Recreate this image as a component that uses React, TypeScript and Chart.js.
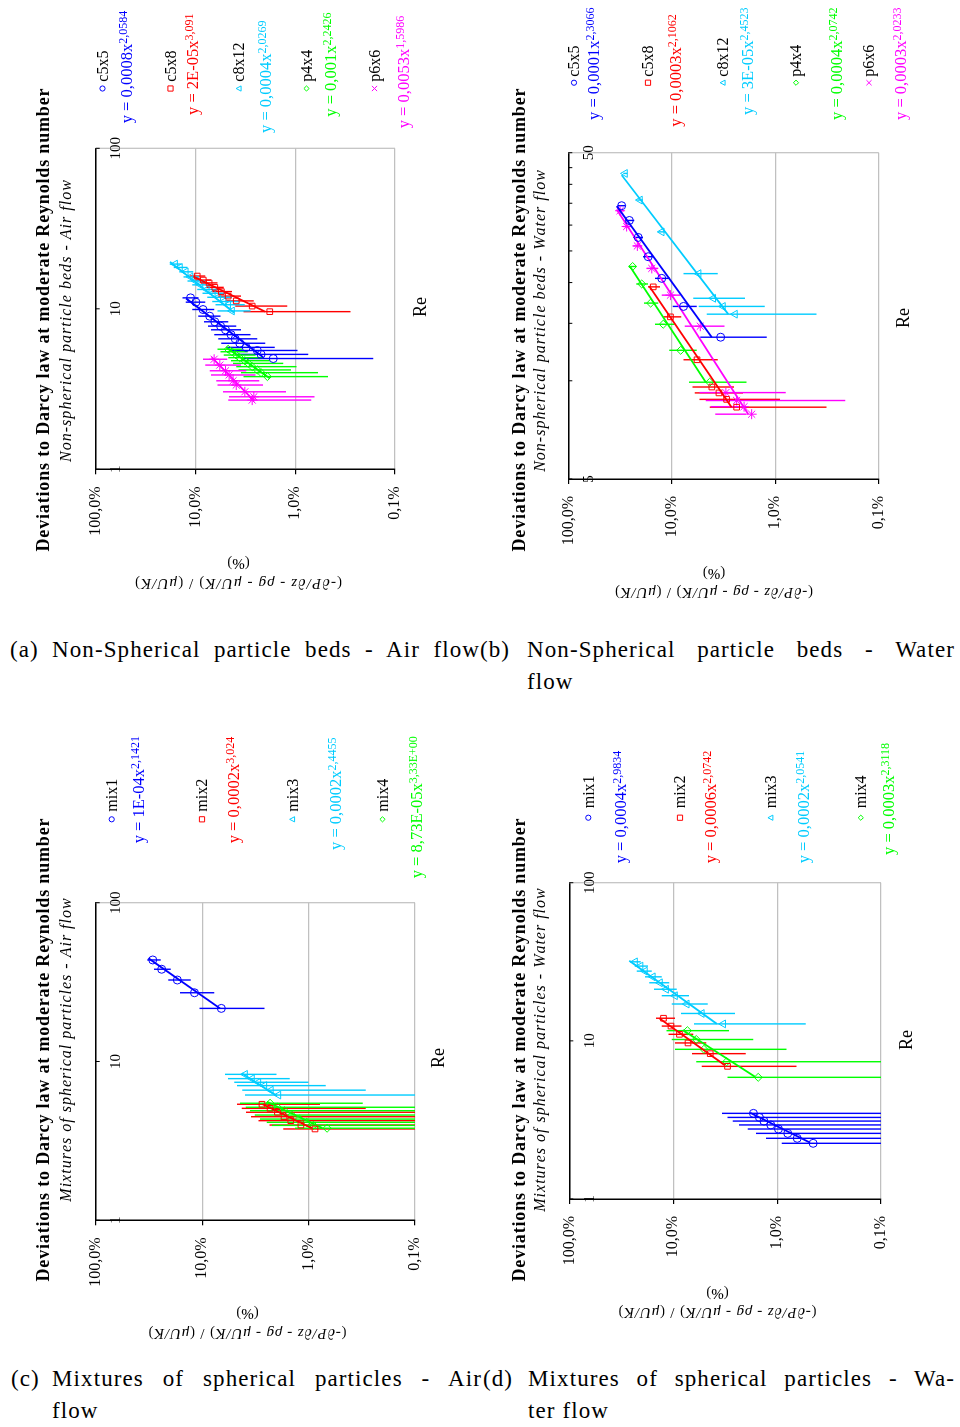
import React, { useEffect, useRef } from "react";
import { Chart, registerables } from "chart.js";
Chart.register(...registerables);

const FAM = '"Liberation Serif", "Times New Roman", serif';
const BLUE = "#0000ff";
const RED = "#ff0000";
const CYAN = "#00ccff";
const GREEN = "#00ff00";
const MAGENTA = "#ff00ff";
const Y_AXIS_W = 80;

// ---------- shared axis data ----------
const DEV_TICKS = [0.001, 0.01, 0.1, 1];
const DEV_TICK_LABELS = ["0,1%", "1,0%", "10,0%", "100,0%"];
const RE_TICKS_DECADE = [1, 10, 100];
const RE_TICK_LABELS_DECADE = ["1", "10", "100"];
const RE_TICKS_B = [5, 10, 15, 20, 25, 30, 35, 40, 45, 50];
const RE_TICK_LABELS_B = ["5", "", "", "", "", "", "", "", "", "50"];
const TITLE = "Deviations to Darcy law at moderate Reynolds number";
const SUB_A = "Non-spherical particle beds - Air flow";
const SUB_B = "Non-spherical particle beds - Water flow";
const SUB_C = "Mixtures of spherical particles - Air flow";
const SUB_D = "Mixtures of spherical particles - Water flow";

// ---------- (a) Non-spherical, air (deviation in %) ----------
const aC5x5Re = [11.7, 11.0, 9.9, 9.0, 8.3, 7.8, 7.4, 6.9, 6.5, 6.1, 5.75, 5.5, 5.2, 4.9];
const aC5x5Dev = [11.2, 9.9, 8.4, 7.2, 6.4, 5.6, 5.0, 4.4, 4.0, 3.6, 3.1, 2.4, 2.2, 1.66];
const aC5x5Hi = [13.5, 12.5, 10.8, 9.4, 8.2, 7.5, 7.0, 6.5, 5.9, 5.5, 4.9, 4.5, 4.0, 3.4];
const aC5x5Lo = [9.3, 8.0, 6.5, 5.6, 4.7, 3.9, 3.5, 2.8, 2.4, 2.0, 1.6, 0.95, 0.74, 0.165];
const aC5x5FitRe = [11.6, 4.99];
const aC5x5FitDev = [12.4, 2.1];

const aC5x8Re = [16.0, 15.1, 14.5, 13.6, 12.8, 12.0, 11.2, 10.4, 9.6];
const aC5x8Dev = [9.6, 8.35, 7.3, 6.4, 5.5, 4.7, 3.9, 2.7, 1.8];
const aC5x8Hi = [11.5, 10, 8.8, 7.8, 6.8, 5.9, 5.0, 4.0, 3.3];
const aC5x8Lo = [8.0, 7.0, 6.0, 5.2, 4.3, 3.5, 2.6, 1.2, 0.28];
const aC5x8FitRe = [15.9, 9.6];
const aC5x8FitDev = [10.5, 2.0];

const aC8x12Re = [19.0, 18.1, 17.0, 15.8, 14.9, 14.1, 13.2, 12.5, 11.8, 11.1, 10.6, 9.7];
const aC8x12Dev = [16.0, 14.3, 12.5, 11.2, 9.95, 8.9, 7.7, 6.7, 5.9, 5.2, 4.7, 4.3];
const aC8x12Hi = [18.1, 16.5, 14.5, 13.2, 12.0, 10.8, 9.6, 8.5, 7.6, 6.8, 6.3, 6.0];
const aC8x12Lo = [13.8, 12.0, 10.5, 9.2, 8.0, 7.0, 5.9, 5.0, 4.3, 3.6, 3.2, 2.8];
const aC8x12FitRe = [19.6, 9.46];
const aC8x12FitDev = [18.0, 4.1];

const aP4x4Re = [5.6, 5.4, 5.15, 4.96, 4.75, 4.57, 4.36, 4.16, 4.0, 3.78];
const aP4x4Dev = [4.7, 4.3, 3.9, 3.6, 3.2, 2.96, 2.7, 2.4, 2.2, 1.9];
const aP4x4Hi = [6.0, 5.6, 5.2, 4.7, 4.4, 4.2, 3.9, 3.7, 3.5, 3.3];
const aP4x4Lo = [3.4, 3.0, 2.5, 2.1, 1.8, 1.32, 0.97, 1.1, 0.59, 0.47];
const aP4x4FitRe = [5.75, 3.69];
const aP4x4FitDev = [4.9, 1.8];

const aP6x6Re = [4.85, 4.46, 4.11, 3.87, 3.56, 3.35, 3.04, 2.83, 2.7];
const aP6x6Dev = [6.5, 5.7, 5.0, 4.6, 4.2, 3.9, 3.2, 2.6, 2.7];
const aP6x6Hi = [8.4, 8.0, 7.2, 7.0, 6.2, 6.0, 5.3, 4.6, 4.7];
const aP6x6Lo = [4.8, 3.5, 3.1, 2.5, 2.3, 2.1, 1.24, 0.64, 0.69];
const aP6x6FitRe = [4.99, 2.68];
const aP6x6FitDev = [6.9, 2.6];

// ---------- (b) Non-spherical, water ----------
const bC5x5Re = [34.4, 31.0, 27.5, 24.0, 20.6, 16.9, 13.6];
const bC5x5Dev = [30.5, 25.7, 21.1, 16.9, 12.5, 7.7, 3.37];
const bC5x5Hi = [33, 28, 23.5, 19, 14.5, 9.8, 5.3];
const bC5x5Lo = [28, 23, 19, 15, 10.4, 5.75, 1.21];
const bC5x5FitRe = [34.3, 13.6];
const bC5x5FitDev = [34, 4.1];

const bC5x8Re = [19.4, 15.7, 11.6, 9.57, 9.18, 8.77, 8.3];
const bC5x8Dev = [15.1, 10.3, 5.7, 4.1, 3.5, 2.95, 2.36];
const bC5x8Hi = [17, 12, 7.7, 6.3, 6.0, 5.4, 4.3];
const bC5x8Lo = [13, 8.1, 3.6, 2.5, 2.05, 0.9, 0.32];
const bC5x8FitRe = [19.5, 8.3];
const bC5x8FitDev = [16.5, 2.64];

const bC8x12Re = [43.2, 35.8, 28.6, 21.3, 17.9, 16.9, 16.0];
const bC8x12Dev = [28.3, 20.3, 12.5, 5.5, 3.97, 3.2, 2.45];
const bC8x12Hi = [29.5, 21.5, 13.5, 7.7, 6.2, 5.5, 4.6];
const bC8x12Lo = [27, 19, 11.5, 3.6, 1.96, 1.26, 0.4];
const bC8x12FitRe = [42.7, 16.0];
const bC8x12FitDev = [30.5, 2.85];

const bP4x4Re = [22.4, 19.8, 17.3, 14.9, 12.4, 9.9];
const bP4x4Dev = [23.9, 19.5, 16.0, 12.1, 8.2, 4.3];
const bP4x4Hi = [26, 22, 18.5, 14.5, 10.6, 6.8];
const bP4x4Lo = [22, 17, 13.5, 9.4, 5.75, 1.9];
const bP4x4FitRe = [22.4, 9.9];
const bP4x4FitDev = [25.3, 4.7];

const bP6x6Re = [33.2, 29.7, 25.9, 22.1, 18.3, 14.7, 9.2, 8.7, 8.33, 7.9];
const bP6x6Dev = [31.6, 27.3, 21.5, 15.6, 10.3, 5.3, 3.0, 2.36, 2.0, 1.69];
const bP6x6Hi = [34, 29.5, 23.5, 17.5, 12.5, 7.5, 5.4, 4.7, 4.2, 3.8];
const bP6x6Lo = [29, 25, 19.5, 13.5, 8.3, 3.1, 0.79, 0.21, 1.9, 1.9];
const bP6x6FitRe = [33.5, 7.9];
const bP6x6FitDev = [34, 1.82];

// ---------- (c) Mixtures, air ----------
const cMix1Re = [43.6, 38.1, 32.6, 27.1, 21.6];
const cMix1Dev = [29.1, 24.0, 17.1, 11.8, 6.6];
const cMix1Hi = [32.7, 28.3, 20.8, 16.1, 10.6];
const cMix1Lo = [24.5, 19.7, 12.8, 7.7, 2.6];
const cMix1FitRe = [44.7, 21.6];
const cMix1FitDev = [32, 6.8];

const cMix2Re = [5.38, 5.07, 4.79, 4.49, 4.24, 3.98, 3.76];
const cMix2Dev = [2.74, 2.3, 1.96, 1.7, 1.47, 1.18, 0.87];
const cMix2Hi = [4.7, 4.25, 3.87, 3.47, 2.96, 2.33, 1.73];
const cMix2Lo = [0.78, 0.29, 0.05, 0, 0, 0, 0];
const cMix2FitRe = [5.38, 3.8];
const cMix2FitDev = [2.7, 0.93];

const cMix3Re = [8.3, 7.8, 7.4, 7.05, 6.6, 6.15];
const cMix3Dev = [3.95, 3.4, 2.96, 2.6, 2.26, 1.92];
const cMix3Hi = [6.1, 5.7, 5.0, 4.7, 4.2, 3.95];
const cMix3Lo = [2.0, 1.5, 1.0, 0.69, 0.29, 0];
const cMix3FitRe = [8.43, 6.09];
const cMix3FitDev = [4.25, 1.99];

const cMix4Re = [5.46, 5.15, 4.9, 4.6, 4.34, 4.14, 3.96, 3.8];
const cMix4Dev = [2.3, 1.96, 1.69, 1.44, 1.22, 1.04, 0.9, 0.67];
const cMix4Hi = [4.4, 3.9, 3.55, 3.2, 2.86, 2.47, 2.2, 1.34];
const cMix4Lo = [0.31, 0, 0, 0, 0, 0, 0, 0];
const cMix4FitRe = [5.58, 3.81];
const cMix4FitDev = [2.47, 0.74];

// ---------- (d) Mixtures, water ----------
const dMix1Re = [3.48, 3.28, 3.11, 2.94, 2.77, 2.6, 2.42, 2.25];
const dMix1Dev = [1.69, 1.48, 1.34, 1.15, 0.97, 0.79, 0.64, 0.45];
const dMix1Hi = [3.4, 3.0, 2.67, 2.33, 1.92, 1.6, 1.28, 0.9];
const dMix1Lo = [0, 0, 0, 0, 0, 0, 0, 0];
const dMix1FitRe = [3.51, 2.27];
const dMix1FitDev = [1.82, 0.48];

const dMix2Re = [13.9, 12.4, 11.0, 9.7, 8.3, 6.9];
const dMix2Dev = [12.4, 10.5, 8.7, 7.2, 4.4, 3.0];
const dMix2Hi = [14.6, 12.9, 11.1, 9.6, 6.6, 5.3];
const dMix2Lo = [9.6, 8.3, 6.4, 4.8, 2.0, 0.65];
const dMix2FitRe = [13.9, 7.03];
const dMix2FitDev = [13.6, 3.2];

const dMix3Re = [31.6, 29.7, 27.6, 25.4, 23.3, 21.2, 19.3, 17.1, 14.9, 12.8];
const dMix3Dev = [23.3, 20.6, 18.7, 15.7, 13.4, 11.7, 9.6, 7.4, 5.3, 3.3];
const dMix3Hi = [26, 23.5, 22.4, 18.7, 17, 15.3, 12.9, 10.3, 8.4, 6.3];
const dMix3Lo = [20.5, 17.5, 16.1, 12.9, 10.9, 9.25, 7.05, 4.66, 2.54, 0.53];
const dMix3FitRe = [32.1, 12.8];
const dMix3FitDev = [26.5, 3.8];

const dMix4Re = [11.6, 10.2, 8.84, 7.38, 5.88];
const dMix4Dev = [7.3, 6.0, 5.06, 3.06, 1.52];
const dMix4Hi = [11.6, 10.3, 9.6, 6.0, 3.0];
const dMix4Lo = [2.9, 1.7, 0.81, 0, 0];
const dMix4FitRe = [11.7, 5.93];
const dMix4FitDev = [8.1, 1.63];

type Series = {
  name: string; color: string; style: string;
  re: number[]; dev: number[]; hi: number[]; lo: number[];
  fitRe: number[]; fitDev: number[]; coef: string; exp: string;
};
const S = (name: string, color: string, style: string, re: number[], dev: number[], hi: number[], lo: number[], fitRe: number[], fitDev: number[], coef: string, exp: string): Series =>
  ({ name, color, style, re, dev, hi, lo, fitRe, fitDev, coef, exp });

const A_SERIES = [
  S("c5x5", BLUE, "circle", aC5x5Re, aC5x5Dev, aC5x5Hi, aC5x5Lo, aC5x5FitRe, aC5x5FitDev, "0,0008", "2,0584"),
  S("c5x8", RED, "rect", aC5x8Re, aC5x8Dev, aC5x8Hi, aC5x8Lo, aC5x8FitRe, aC5x8FitDev, "2E-05", "3,091"),
  S("c8x12", CYAN, "triangle", aC8x12Re, aC8x12Dev, aC8x12Hi, aC8x12Lo, aC8x12FitRe, aC8x12FitDev, "0,0004", "2,0269"),
  S("p4x4", GREEN, "rectRot", aP4x4Re, aP4x4Dev, aP4x4Hi, aP4x4Lo, aP4x4FitRe, aP4x4FitDev, "0,001", "2,2426"),
  S("p6x6", MAGENTA, "star", aP6x6Re, aP6x6Dev, aP6x6Hi, aP6x6Lo, aP6x6FitRe, aP6x6FitDev, "0,0053", "1,5986"),
];
const B_SERIES = [
  S("c5x5", BLUE, "circle", bC5x5Re, bC5x5Dev, bC5x5Hi, bC5x5Lo, bC5x5FitRe, bC5x5FitDev, "0,0001", "2,3066"),
  S("c5x8", RED, "rect", bC5x8Re, bC5x8Dev, bC5x8Hi, bC5x8Lo, bC5x8FitRe, bC5x8FitDev, "0,0003", "2,1062"),
  S("c8x12", CYAN, "triangle", bC8x12Re, bC8x12Dev, bC8x12Hi, bC8x12Lo, bC8x12FitRe, bC8x12FitDev, "3E-05", "2,4523"),
  S("p4x4", GREEN, "rectRot", bP4x4Re, bP4x4Dev, bP4x4Hi, bP4x4Lo, bP4x4FitRe, bP4x4FitDev, "0,0004", "2,0742"),
  S("p6x6", MAGENTA, "star", bP6x6Re, bP6x6Dev, bP6x6Hi, bP6x6Lo, bP6x6FitRe, bP6x6FitDev, "0,0003", "2,0233"),
];
const C_SERIES = [
  S("mix1", BLUE, "circle", cMix1Re, cMix1Dev, cMix1Hi, cMix1Lo, cMix1FitRe, cMix1FitDev, "1E-04", "2,1421"),
  S("mix2", RED, "rect", cMix2Re, cMix2Dev, cMix2Hi, cMix2Lo, cMix2FitRe, cMix2FitDev, "0,0002", "3,024"),
  S("mix3", CYAN, "triangle", cMix3Re, cMix3Dev, cMix3Hi, cMix3Lo, cMix3FitRe, cMix3FitDev, "0,0002", "2,4455"),
  S("mix4", GREEN, "rectRot", cMix4Re, cMix4Dev, cMix4Hi, cMix4Lo, cMix4FitRe, cMix4FitDev, "8,73E-05", "3,33E+00"),
];
const D_SERIES = [
  S("mix1", BLUE, "circle", dMix1Re, dMix1Dev, dMix1Hi, dMix1Lo, dMix1FitRe, dMix1FitDev, "0,0004", "2,9834"),
  S("mix2", RED, "rect", dMix2Re, dMix2Dev, dMix2Hi, dMix2Lo, dMix2FitRe, dMix2FitDev, "0,0006", "2,0742"),
  S("mix3", CYAN, "triangle", dMix3Re, dMix3Dev, dMix3Hi, dMix3Lo, dMix3FitRe, dMix3FitDev, "0,0002", "2,0541"),
  S("mix4", GREEN, "rectRot", dMix4Re, dMix4Dev, dMix4Hi, dMix4Lo, dMix4FitRe, dMix4FitDev, "0,0003", "2,3118"),
];

// ---------- layout (unrotated chart coordinates: u along Re, v downward) ----------
const LAYOUT_A = {
  x0: 0, y0: 0, pw: 480, ph: 620,
  pad: { left: 150.7, right: 148.3, top: 95.7, bottom: 85 },
  title: { u: 300, v: 49, w: 463 }, sub: { u: 299, v: 70.5, w: 282 },
  yTitle: { u: 36.7, u2: 57.5, v: 238.5, w: 207 }, re: { u: 313, v: 421 },
  legendV: [102.5, 170.5, 239, 306.5, 374.5], markerU: 531.5, nameU: 538.3,
  eqU: [496.7, 505, 487, 503.3, 491.7], eqV: [126, 192.5, 265.8, 330.8, 403.3],
};
const LAYOUT_B = {
  x0: 480, y0: 0, pw: 480, ph: 620,
  pad: { left: 141, right: 152.7, top: 88.3, bottom: 81.3 },
  title: { u: 300, v: 44.5, w: 463 }, sub: { u: 299, v: 64.5, w: 301.7 },
  yTitle: { u: 28.3, u2: 47.5, v: 234, w: 198 }, re: { u: 302, v: 424 },
  legendV: [94, 168, 243, 316, 389], markerU: 537.3, nameU: 543.3,
  eqU: [500, 493.3, 505, 500, 500], eqV: [113.3, 195, 267.5, 356, 420.8],
};
const LAYOUT_C = {
  x0: 0, y0: 720, pw: 480, ph: 630,
  pad: { left: 129.7, right: 182.7, top: 95.7, bottom: 65 },
  title: { u: 300, v: 49, w: 463 }, sub: { u: 300, v: 70.5, w: 303.4 },
  yTitle: { u: 16.7, u2: 37.5, v: 247.5, w: 198 }, re: { u: 292, v: 439 },
  legendV: [111.7, 202, 292.5, 382.5], markerU: 530.7, nameU: 538.3,
  eqU: [506.7, 506.7, 500, 471.7], eqV: [138.3, 233.3, 335, 416.7],
};
const LAYOUT_D = {
  x0: 480, y0: 720, pw: 480, ph: 630,
  pad: { left: 151, right: 162.7, top: 89.3, bottom: 79 },
  title: { u: 300, v: 44.5, w: 463 }, sub: { u: 300, v: 64.5, w: 323.4 },
  yTitle: { u: 38.3, u2: 57.5, v: 237.5, w: 198 }, re: { u: 310, v: 427.5 },
  legendV: [108.3, 200, 290.8, 380.8], markerU: 532.3, nameU: 541.7,
  eqU: [486.7, 486.7, 486.7, 495], eqV: [140, 230, 323.3, 408.3],
};

const PANELS = [
  { layout: LAYOUT_A, series: A_SERIES, sub: SUB_A, reMin: 1, reMax: 100, reTicks: RE_TICKS_DECADE, reLabels: RE_TICK_LABELS_DECADE },
  { layout: LAYOUT_B, series: B_SERIES, sub: SUB_B, reMin: 5, reMax: 50, reTicks: RE_TICKS_B, reLabels: RE_TICK_LABELS_B },
  { layout: LAYOUT_C, series: C_SERIES, sub: SUB_C, reMin: 1, reMax: 100, reTicks: RE_TICKS_DECADE, reLabels: RE_TICK_LABELS_DECADE },
  { layout: LAYOUT_D, series: D_SERIES, sub: SUB_D, reMin: 1, reMax: 100, reTicks: RE_TICKS_DECADE, reLabels: RE_TICK_LABELS_DECADE },
];

const Y_TITLE_SEGS: [string, boolean][] = [
  ["(-", false], ["\u2202P/\u2202z", true], [" - ", false], ["\u03C1g", true], [" - ", false],
  ["\u03BCU/K", true], [") / (", false], ["\u03BCU/K", true], [")", false],
];

function drawSpaced(ctx: CanvasRenderingContext2D, segs: [string, string][], cx: number, y: number, target: number) {
  const chars: { c: string; f: string; w: number }[] = [];
  segs.forEach(([t, f]) => {
    ctx.font = f;
    Array.from(t).forEach((c) => chars.push({ c, f, w: ctx.measureText(c).width }));
  });
  const nat = chars.reduce((s, c) => s + c.w, 0);
  const extra = chars.length > 1 ? (target - nat) / (chars.length - 1) : 0;
  let x = cx - target / 2;
  ctx.textAlign = "left";
  chars.forEach((ch) => {
    ctx.font = ch.f;
    ctx.fillText(ch.c, x, y);
    x += ch.w + extra;
  });
}

function drawMarker(ctx: CanvasRenderingContext2D, style: string, x: number, y: number, r: number) {
  ctx.beginPath();
  if (style === "circle") ctx.arc(x, y, r, 0, Math.PI * 2);
  else if (style === "rect") ctx.rect(x - r, y - r, 2 * r, 2 * r);
  else if (style === "triangle") {
    ctx.moveTo(x, y - r * 1.1); ctx.lineTo(x + r, y + r * 0.8); ctx.lineTo(x - r, y + r * 0.8); ctx.closePath();
  } else if (style === "rectRot") {
    ctx.moveTo(x, y - r); ctx.lineTo(x + r, y); ctx.lineTo(x, y + r); ctx.lineTo(x - r, y); ctx.closePath();
  } else {
    ctx.moveTo(x - r, y - r); ctx.lineTo(x + r, y + r); ctx.moveTo(x + r, y - r); ctx.lineTo(x - r, y + r);
  }
  ctx.stroke();
}

function makeDeco(p: any) {
  const L = p.layout;
  return {
    id: "deco",
    beforeDatasetsDraw(chart: any) {
      const { ctx, chartArea: a, scales } = chart;
      const xs = scales.x, ys = scales.y;
      ctx.save();
      ctx.beginPath();
      ctx.rect(a.left, a.top, a.right - a.left, a.bottom - a.top);
      ctx.clip();
      ctx.lineWidth = 1.4;
      p.series.forEach((s: Series) => {
        ctx.strokeStyle = s.color;
        s.re.forEach((re, i) => {
          const px = xs.getPixelForValue(re);
          const y1 = ys.getPixelForValue(s.hi[i] / 100);
          const y2 = s.lo[i] > 0 ? ys.getPixelForValue(s.lo[i] / 100) : a.bottom + 4;
          ctx.beginPath();
          ctx.moveTo(px, y1);
          ctx.lineTo(px, y2);
          ctx.stroke();
        });
      });
      ctx.restore();
    },
    afterDraw(chart: any) {
      const { ctx, chartArea: a, scales } = chart;
      const xs = scales.x;
      ctx.save();
      // gray right border
      ctx.strokeStyle = "#c0c0c0";
      ctx.lineWidth = 1.2;
      ctx.beginPath(); ctx.moveTo(a.right, a.top); ctx.lineTo(a.right, a.bottom); ctx.stroke();
      // inward Re ticks and their labels (from the Re scale's own ticks)
      ctx.strokeStyle = "#000";
      ctx.lineWidth = 1;
      ctx.fillStyle = "#000";
      ctx.font = `15px ${FAM}`;
      ctx.textAlign = "center";
      ctx.textBaseline = "middle";
      xs.ticks.forEach((t: any) => {
        const px = xs.getPixelForValue(t.value);
        ctx.beginPath(); ctx.moveTo(px, a.top); ctx.lineTo(px, a.top + 4); ctx.stroke();
        if (t.label) ctx.fillText(String(t.label), px, a.top + 20.5);
      });
      ctx.textBaseline = "alphabetic";
      // title + subtitle
      drawSpaced(ctx, [[TITLE, `bold 18px ${FAM}`]], L.title.u, L.title.v, L.title.w);
      drawSpaced(ctx, [[p.sub, `italic 16px ${FAM}`]], L.sub.u, L.sub.v, L.sub.w);
      // y title (rotated)
      ctx.save();
      ctx.translate(L.yTitle.u, L.yTitle.v);
      ctx.rotate(-Math.PI / 2);
      ctx.textBaseline = "middle";
      drawSpaced(ctx, Y_TITLE_SEGS.map(([t, it]) => [t, `${it ? "italic " : ""}15px ${FAM}`] as [string, string]), 0, 0, L.yTitle.w);
      ctx.restore();
      ctx.save();
      ctx.translate(L.yTitle.u2, L.yTitle.v);
      ctx.rotate(-Math.PI / 2);
      ctx.textBaseline = "middle";
      ctx.textAlign = "center";
      ctx.font = `15px ${FAM}`;
      ctx.fillText("(%)", 0, 0);
      ctx.restore();
      // Re title
      ctx.textAlign = "center";
      ctx.textBaseline = "middle";
      ctx.font = `18px ${FAM}`;
      ctx.fillText("Re", L.re.u, L.re.v);
      // legend + equations
      ctx.textAlign = "left";
      ctx.textBaseline = "alphabetic";
      p.series.forEach((s: Series, i: number) => {
        ctx.strokeStyle = s.color;
        ctx.lineWidth = 1;
        drawMarker(ctx, s.style === "star" ? "x" : s.style, L.markerU, L.legendV[i], 2.6);
        ctx.fillStyle = "#000";
        ctx.font = `16px ${FAM}`;
        ctx.fillText(s.name, L.nameU, L.legendV[i] + 5.3);
        ctx.fillStyle = s.color;
        ctx.font = `16.5px ${FAM}`;
        const base = `y = ${s.coef}x`;
        const bl = L.eqV[i] + 5.5;
        ctx.fillText(base, L.eqU[i], bl);
        const w = ctx.measureText(base).width;
        ctx.font = `12px ${FAM}`;
        ctx.fillText(s.exp, L.eqU[i] + w, bl - 5);
      });
      ctx.restore();
    },
  };
}

function Panel({ p }: { p: any }) {
  const ref = useRef<HTMLCanvasElement>(null);
  const L = p.layout;
  const W = L.ph, H = L.pw;
  useEffect(() => {
    const datasets: any[] = [];
    p.series.forEach((s: Series) => {
      datasets.push({
        data: s.re.map((r, i) => ({ x: r, y: s.dev[i] / 100 })),
        pointStyle: s.style,
        pointRadius: s.style === "star" ? 5 : s.style === "triangle" ? 4.5 : 4,
        pointBorderWidth: 1,
        pointBorderColor: s.color,
        pointBackgroundColor: "rgba(0,0,0,0)",
        borderColor: s.color,
        backgroundColor: "rgba(0,0,0,0)",
        showLine: false,
      });
      datasets.push({
        data: s.fitRe.map((r, i) => ({ x: r, y: s.fitDev[i] / 100 })),
        showLine: true,
        borderColor: s.color,
        borderWidth: 1.8,
        pointRadius: 0,
        fill: false,
      });
    });
    const pad = { ...L.pad, left: L.pad.left - Y_AXIS_W };
    const chart = new Chart(ref.current as HTMLCanvasElement, {
      type: "scatter",
      data: { datasets },
      options: {
        responsive: false,
        animation: false,
        devicePixelRatio: 1,
        events: [],
        layout: { padding: pad },
        plugins: { legend: { display: false }, title: { display: false }, tooltip: { enabled: false } },
        scales: {
          x: {
            type: "logarithmic",
            position: "top",
            min: p.reMin,
            max: p.reMax,
            afterFit: (s: any) => { s.height = 0; },
            afterBuildTicks: (s: any) => { s.ticks = p.reTicks.map((v: number) => ({ value: v })); },
            ticks: {
              display: false,
              autoSkip: false,
              callback: (v: any) => { const i = p.reTicks.indexOf(Number(v)); return i >= 0 ? p.reLabels[i] : ""; },
            },
            grid: { display: false, drawTicks: false },
            border: { display: true, color: "#000", width: 1.5 },
          },
          y: {
            type: "logarithmic",
            position: "left",
            min: 0.001,
            max: 1,
            afterFit: (s: any) => { s.width = Y_AXIS_W; },
            afterBuildTicks: (s: any) => { s.ticks = DEV_TICKS.map((v) => ({ value: v })); },
            ticks: {
              autoSkip: false,
              padding: 12,
              color: "#000",
              font: { family: FAM, size: 16 },
              callback: (v: any) => { const i = DEV_TICKS.indexOf(Number(v)); return i >= 0 ? DEV_TICK_LABELS[i] : ""; },
            },
            grid: { color: "#c0c0c0", lineWidth: 1.2, tickColor: "#000", tickLength: 5, drawTicks: true },
            border: { display: true, color: "#000", width: 1.5 },
          },
        },
      } as any,
      plugins: [makeDeco(p) as any],
    });
    return () => chart.destroy();
  }, []);
  return (
    <div style={{ position: "absolute", left: L.x0, top: L.y0, width: W, height: H, transformOrigin: "0 0", transform: `translate(0px, ${W}px) rotate(-90deg)` }}>
      <canvas ref={ref} width={W} height={H} style={{ display: "block", width: W, height: H }} />
    </div>
  );
}

function Caption({ left, top, width, labelW, label, line1, line2 }: any) {
  return (
    <div style={{ position: "absolute", left, top, width, display: "flex", fontFamily: FAM, fontSize: 23, letterSpacing: "1.1px", lineHeight: "32px", color: "#000" }}>
      <div style={{ width: labelW, flex: "none" }}>{label}</div>
      <div style={{ flex: 1 }}>
        <div style={{ textAlign: "justify", textAlignLast: "justify" as any }}>{line1}</div>
        {line2 ? <div>{line2}</div> : null}
      </div>
    </div>
  );
}

export default function App() {
  return (
    <div style={{ position: "absolute", left: 0, top: 0, width: 960, height: 1427, background: "#fff", overflow: "hidden" }}>
      {PANELS.map((p, i) => <Panel key={i} p={p} />)}
      <Caption left={10} top={634} width={470} labelW={42} label="(a)" line1="Non-Spherical particle beds - Air flow" />
      <Caption left={480} top={634} width={475} labelW={47} label="(b)" line1="Non-Spherical particle beds - Water" line2="flow" />
      <Caption left={11} top={1363} width={471} labelW={41} label="(c)" line1="Mixtures of spherical particles - Air" line2="flow" />
      <Caption left={483} top={1363} width={472} labelW={45} label="(d)" line1="Mixtures of spherical particles - Wa-" line2="ter flow" />
    </div>
  );
}
